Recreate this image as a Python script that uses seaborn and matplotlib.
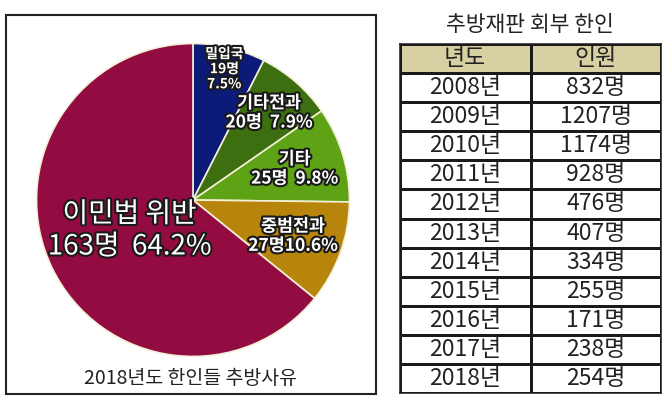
import numpy as np
import pandas as pd
import matplotlib
matplotlib.use('Agg')
import matplotlib.pyplot as plt
import matplotlib.patheffects as pe
from matplotlib.colors import ListedColormap
from matplotlib.patches import Rectangle
import seaborn as sns

# 파이 데이터 (2018년도 한인들 추방사유)
reasons = ['밀입국', '기타전과', '기타', '중범전과', '이민법 위반']
counts = [19, 20, 25, 27, 163]
pie_labels = ['밀입국\n19명\n7.5%', '기타전과\n20명  7.9%', '기타\n25명  9.8%',
              '중범전과\n27명10.6%', '이민법 위반\n163명  64.2%']
pie_colors = ['#0c1a78', '#3d6e10', '#5ea315', '#b7850b', '#920b41']

# 표 데이터 (추방재판 회부 한인)
years = ['2008년', '2009년', '2010년', '2011년', '2012년', '2013년',
         '2014년', '2015년', '2016년', '2017년', '2018년']
persons = [832, 1207, 1174, 928, 476, 407, 334, 255, 171, 238, 254]
header = ['년도', '인원']

sns.set_theme(style='white')
plt.rcParams['font.family'] = ['Noto Sans CJK KR', 'DejaVu Sans']

W, H = 669, 401
fig = plt.figure(figsize=(W / 100, H / 100), dpi=100)


def px_axes(left, top, right, bottom):
    return fig.add_axes([left / W, 1 - bottom / H, (right - left) / W, (bottom - top) / H])


# 왼쪽 테두리 박스
fig.patches.append(Rectangle((6 / W, 1 - 394 / H), 370 / W, 379 / H, transform=fig.transFigure,
                             fill=False, edgecolor='#222222', linewidth=1.5))

# 1. 파이 차트
ax = px_axes(35, 42, 351, 358)
wedges, _ = ax.pie(counts, colors=pie_colors, startangle=90, counterclock=False,
                   wedgeprops=dict(edgecolor='#f4f0d8', linewidth=1.2))
ax.set_xlim(-1.01, 1.01)
ax.set_ylim(-1.01, 1.01)

label_r = [0.86, 0.74, 0.68, 0.68, 0.45]
label_size = [10, 12.5, 12.5, 12.5, 20]
label_weight = ['bold', 'bold', 'bold', 'bold', 'normal']
outline = [pe.withStroke(linewidth=3, foreground='#1a1a1a')]
for w, txt, r, fs, fw in zip(wedges, pie_labels, label_r, label_size, label_weight):
    mid = np.deg2rad((w.theta1 + w.theta2) / 2)
    ax.text(r * np.cos(mid), r * np.sin(mid), txt, ha='center', va='center',
            color='white', fontsize=fs, fontweight=fw, linespacing=1.1,
            path_effects=outline)

fig.text(191 / W, 1 - 378 / H, '2018년도 한인들 추방사유', ha='center', va='center',
         fontsize=14, color='#222222')

# 2. 표 (seaborn heatmap 으로 그리기)
table_df = pd.DataFrame({header[0]: years, header[1]: [f'{p}명' for p in persons]})
annot = np.vstack([header, table_df.values])
shade = np.zeros(annot.shape)
shade[0, :] = 1

tax = px_axes(400, 44, 661, 393)
sns.heatmap(shade, ax=tax, cmap=ListedColormap(['white', '#d6d0a3']), vmin=0, vmax=1,
            cbar=False, annot=annot, fmt='', linewidths=0.8, linecolor='#1a1a1a',
            annot_kws=dict(fontsize=16.5, color='#222222'),
            xticklabels=False, yticklabels=False)
for s in tax.spines.values():
    s.set_visible(True)
    s.set_linewidth(1.1)
    s.set_color('#1a1a1a')

fig.text(530 / W, 1 - 25 / H, '추방재판 회부 한인', ha='center', va='center',
         fontsize=15.5, color='#222222')

fig.savefig('out.png', dpi=100)
